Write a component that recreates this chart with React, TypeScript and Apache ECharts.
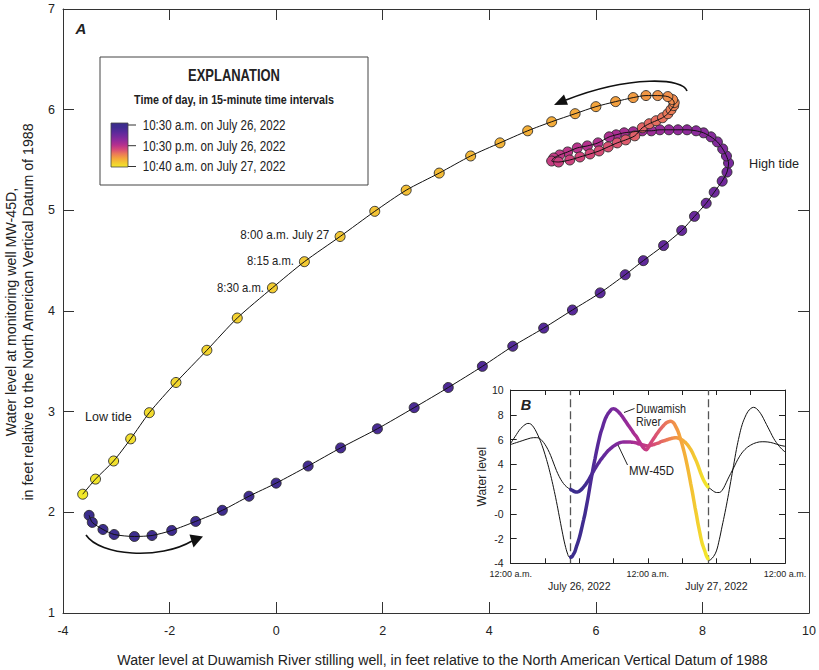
import React, { useEffect, useRef } from 'react';
import * as echarts from 'echarts';

const FONT = "'Liberation Sans', Arial, sans-serif";

// Main plot (A): 15-minute readings from 10:30 a.m. July 26 to 10:30 a.m. July 27, 2022
const riverLevel = [
  -3.51, -3.45, -3.25, -3.04, -2.66, -2.33, -1.96, -1.51, -1.01, -0.51,
  0.0, 0.6, 1.21, 1.9, 2.59, 3.23, 3.87, 4.44, 5.02, 5.56,
  6.08, 6.55, 6.89, 7.27, 7.61, 7.85, 8.07, 8.22, 8.37, 8.46,
  8.49, 8.45, 8.38, 8.28, 8.16, 8.02, 7.88, 7.71, 7.54, 7.37,
  7.2, 7.04, 6.87, 6.7, 6.53, 6.38, 6.25, 6.04, 5.84, 5.65,
  5.47, 5.32, 5.21, 5.17, 5.3, 5.51, 5.7, 5.89, 6.06, 6.23,
  6.4, 6.56, 6.73, 6.87, 7.0, 7.13, 7.25, 7.35, 7.41, 7.46,
  7.47, 7.44, 7.35, 7.16, 6.94, 6.7, 6.37, 6.0, 5.61, 5.17,
  4.72, 4.2, 3.65, 3.06, 2.44, 1.85, 1.2, 0.53, -0.07, -0.73,
  -1.3, -1.88, -2.38, -2.73, -3.05, -3.39, -3.63,
];
const wellLevel = [
  1.97, 1.9, 1.83, 1.78, 1.76, 1.77, 1.82, 1.91, 2.02, 2.16,
  2.29, 2.46, 2.64, 2.83, 3.04, 3.24, 3.45, 3.65, 3.83, 4.01,
  4.18, 4.36, 4.5, 4.65, 4.8, 4.94, 5.07, 5.18, 5.29, 5.38,
  5.47, 5.54, 5.61, 5.68, 5.73, 5.77, 5.79, 5.8, 5.8, 5.8,
  5.8, 5.79, 5.79, 5.78, 5.77, 5.75, 5.73, 5.67, 5.64, 5.62,
  5.58, 5.55, 5.52, 5.49, 5.48, 5.5, 5.53, 5.56, 5.59, 5.63,
  5.67, 5.7, 5.74, 5.82, 5.86, 5.89, 5.92, 5.96, 6.0, 6.04,
  6.07, 6.1, 6.13, 6.14, 6.14, 6.12, 6.08, 6.03, 5.96, 5.88,
  5.79, 5.67, 5.54, 5.37, 5.2, 4.99, 4.74, 4.49, 4.23, 3.93,
  3.61, 3.29, 2.99, 2.73, 2.51, 2.33, 2.18,
];
const startHour = 10.5; // hours after 12:00 a.m. July 26
const stepHours = 0.25;

// Inset (B): [hours after 12:00 a.m. July 26, water level]
const riverBefore = [
  [0, 5.7], [0.5, 6.05], [1, 6.4], [1.5, 6.75], [2, 7.0], [2.5, 7.2], [3, 7.3], [3.5, 7.25],
  [4, 7.0], [4.5, 6.6], [5, 6.1], [5.5, 5.5], [6, 4.8], [6.5, 4.0], [7, 3.1], [7.5, 2.1],
  [8, 1.0], [8.5, -0.2], [9, -1.4], [9.5, -2.5], [10, -3.3], [10.25, -3.5],
];
const wellBefore = [
  [0, 5.6], [1, 5.75], [2, 5.9], [3, 6.05], [4, 6.15], [4.5, 6.15], [5, 6.1], [5.5, 5.9],
  [6, 5.6], [6.5, 5.2], [7, 4.7], [7.5, 4.1], [8, 3.5], [8.5, 3.0], [9, 2.6], [9.5, 2.3],
  [10, 2.1], [10.25, 2.02],
];
const riverAfter = [
  [34.75, -3.75], [35, -3.7], [35.5, -3.45], [36, -3.0], [36.5, -2.1], [37, -1.0], [37.5, 0.1],
  [38, 1.3], [38.5, 2.6], [39, 3.9], [39.5, 5.2], [40, 6.3], [40.5, 7.2], [41, 7.8],
  [41.5, 8.25], [42, 8.5], [42.5, 8.6], [43, 8.5], [43.5, 8.25], [44, 7.9], [44.5, 7.45],
  [45, 7.0], [45.5, 6.55], [46, 6.1], [46.5, 5.75], [47, 5.45], [47.5, 5.2], [48, 5.0],
];
const wellAfter = [
  [34.75, 2.08], [35, 2.0], [35.5, 1.82], [36, 1.72], [36.5, 1.72], [37, 1.9], [37.5, 2.3],
  [38, 2.8], [39, 3.7], [40, 4.6], [41, 5.2], [42, 5.55], [43, 5.75], [44, 5.82],
  [45, 5.8], [46, 5.7], [47, 5.55], [48, 5.45],
];
const dashedHours = [10.5, 34.5];
const dayLabels = ['July 26, 2022', 'July 27, 2022'];
const insetYLabels: Record<string, string> = { '-4': '-4', '-2': '-2', '0': '-0', '2': '2', '4': '4', '6': '6', '8': '8', '10': '10' };

const xTitle = 'Water level at Duwamish River stilling well, in feet relative to the North American Vertical Datum of 1988';
const yTitle = ['Water level at monitoring well MW-45D,', 'in feet relative to the North American Vertical Datum of 1988'];
const legendTitle = 'EXPLANATION';
const legendSubtitle = 'Time of day, in 15-minute time intervals';
const legendLabels = ['10:30 a.m. on July 26, 2022', '10:30 p.m. on July 26, 2022', '10:40 a.m. on July 27, 2022'];
const timeNotes = ['8:00 a.m. July 27', '8:15 a.m.', '8:30 a.m.'];

const palette = [
  '#3b2d8c', '#402c90', '#58299a', '#74299c', '#932b9a', '#b5308e',
  '#d64a78', '#eb7959', '#f4a43d', '#f3c832', '#f2e82a',
];

const measureCtx = typeof document !== 'undefined' ? document.createElement('canvas').getContext('2d') : null;
function textWidth(text: string, size: number, weight = 'normal', fstyle = 'normal') {
  if (!measureCtx) return text.length * size * 0.5;
  measureCtx.font = `${fstyle} ${weight} ${size}px ${FONT}`;
  return measureCtx.measureText(text).width || text.length * size * 0.5;
}

export default function App() {
  const ref = useRef<HTMLDivElement>(null);
  useEffect(() => {
    const chart = echarts.init(ref.current!, null, { renderer: 'svg' });
    const scatterData = riverLevel.map((x, i) => [x, wellLevel[i], i]);
    const hours = riverLevel.map((_, i) => startHour + i * stepHours);
    const riverColored = riverLevel.map((v, i) => [hours[i], v]);
    const wellColored = wellLevel.map((v, i) => [hours[i], v]);
    const riverFull = [...riverBefore, ...riverColored, ...riverAfter];
    const wellFull = [...wellBefore, ...wellColored, ...wellAfter];

    const axisColor = '#333';
    const labelColor = '#222';
    const txt = (text: string, x: number, y: number, o: any = {}) => {
      const size = o.size ?? 12.5;
      const weight = o.weight ?? 'normal';
      const fstyle = o.fstyle ?? 'normal';
      const align = o.align ?? 'left';
      const scale = o.width ? o.width / textWidth(text, size, weight, fstyle) : (o.scale ?? 0.84);
      return {
        type: 'text', x, y, z: 20, scaleX: scale, scaleY: 1, rotation: o.rotation ?? 0,
        style: {
          text, fill: labelColor, fontFamily: FONT, fontSize: size, fontWeight: weight, fontStyle: fstyle,
          align, verticalAlign: 'middle', textAlign: align, textVerticalAlign: 'middle',
        },
      };
    };
    const titleSize = 15.5;
    const titleScale = 651 / textWidth(xTitle, titleSize);
    const legendGradient = new echarts.graphic.LinearGradient(0, 0, 0, 1,
      palette.map((c, i) => ({ offset: i / (palette.length - 1), color: c })));
    const legendY = [125, 145.7, 166.5];

    const mainAxisCommon = {
      type: 'value', gridIndex: 0,
      axisLine: { show: true, onZero: false, lineStyle: { color: axisColor, width: 1 } },
      axisTick: { show: true, inside: true, length: 11, lineStyle: { color: axisColor } },
      splitLine: { show: false },
    };
    const insetAxisCommon = {
      type: 'value', gridIndex: 1,
      axisLine: { show: true, onZero: false, lineStyle: { color: '#222', width: 1 } },
      axisTick: { show: true, inside: true, length: 6, lineStyle: { color: '#222' } },
      splitLine: { show: false },
    };

    const option: any = {
      animation: false,
      backgroundColor: '#fff',
      grid: [
        { left: 63, top: 9, width: 752, height: 604 },
        { left: 510.7, top: 390, width: 274.3, height: 173.3 },
      ],
      xAxis: [
        {
          ...mainAxisCommon, min: -4, max: 10, interval: 2, position: 'bottom',
          axisLabel: { color: labelColor, fontSize: 12.5, fontFamily: FONT, margin: 11 },
        },
        { ...mainAxisCommon, min: -4, max: 10, interval: 2, position: 'top', axisLabel: { show: false } },
        {
          ...insetAxisCommon, min: 0, max: 48, interval: 6, position: 'bottom',
          axisTick: { show: true, inside: true, length: 5, lineStyle: { color: '#222' } },
          axisLabel: {
            color: labelColor, fontSize: 9, fontFamily: FONT, margin: 6, interval: 0,
            formatter: (v: number) => {
              if (v % 24 === 0) return '12:00 a.m.';
              if (v % 24 === 12) return '{d|' + dayLabels[Math.floor(v / 24)] + '}';
              return '';
            },
            rich: { d: { fontSize: 10.5, fontFamily: FONT, color: labelColor, padding: [11, 0, 0, 0] } },
          },
        },
        {
          ...insetAxisCommon, min: 0, max: 48, interval: 6, position: 'top',
          axisTick: { show: true, inside: true, length: 5, lineStyle: { color: '#222' } },
          axisLabel: { show: false },
        },
      ],
      yAxis: [
        {
          ...mainAxisCommon, min: 1, max: 7, interval: 1, position: 'left',
          axisLabel: { color: labelColor, fontSize: 12.5, fontFamily: FONT, margin: 8 },
        },
        { ...mainAxisCommon, min: 1, max: 7, interval: 1, position: 'right', axisLabel: { show: false } },
        {
          ...insetAxisCommon, min: -4, max: 10, interval: 2, position: 'left',
          axisLabel: {
            color: labelColor, fontSize: 10.5, fontFamily: FONT, margin: 7,
            formatter: (v: number) => insetYLabels[String(v)] ?? String(v),
          },
          name: 'Water level', nameLocation: 'middle', nameGap: 22, nameRotate: 90,
          nameTextStyle: { color: labelColor, fontSize: 12, fontFamily: FONT },
        },
        { ...insetAxisCommon, min: -4, max: 10, interval: 2, position: 'right', axisLabel: { show: false } },
      ],
      visualMap: [
        {
          type: 'continuous', show: false, seriesIndex: 0, dimension: 2,
          min: 0, max: riverLevel.length - 1, inRange: { color: palette },
        },
        {
          type: 'continuous', show: false, seriesIndex: [4, 5], dimension: 0,
          min: hours[0], max: hours[hours.length - 1], inRange: { color: palette },
        },
      ],
      series: [
        {
          type: 'scatter', xAxisIndex: 0, yAxisIndex: 0, data: scatterData, z: 2,
          symbol: 'circle', symbolSize: 10,
          itemStyle: { borderColor: '#2a2a2a', borderWidth: 0.9, opacity: 1 },
        },
        {
          type: 'line', xAxisIndex: 0, yAxisIndex: 0, data: scatterData.map((d) => [d[0], d[1]]), z: 3,
          showSymbol: false, smooth: 0.25, lineStyle: { color: '#111', width: 1 }, silent: true,
        },
        {
          type: 'line', xAxisIndex: 2, yAxisIndex: 2, data: riverFull, z: 5,
          showSymbol: false, smooth: 0.4, lineStyle: { color: '#111', width: 1 }, silent: true,
          markLine: {
            silent: true, symbol: 'none', label: { show: false },
            lineStyle: { color: '#555', type: [8, 4], width: 1.3 },
            data: dashedHours.map((h) => ({ xAxis: h })),
          },
        },
        {
          type: 'line', xAxisIndex: 2, yAxisIndex: 2, data: wellFull, z: 5,
          showSymbol: false, smooth: 0.4, lineStyle: { color: '#111', width: 1 }, silent: true,
        },
        {
          type: 'line', xAxisIndex: 2, yAxisIndex: 2, data: riverColored, z: 6,
          showSymbol: false, smooth: 0.3, lineStyle: { width: 3.5, cap: 'round' }, silent: true,
        },
        {
          type: 'line', xAxisIndex: 2, yAxisIndex: 2, data: wellColored, z: 6,
          showSymbol: false, smooth: 0.3, lineStyle: { width: 3.5, cap: 'round' }, silent: true,
        },
      ],
      graphic: {
        elements: [
          // axis titles
          { ...txt(xTitle, 442.5, 660, { size: titleSize, align: 'center', scale: titleScale }) },
          { ...txt(yTitle[0], 10.5, 312, { size: titleSize, align: 'center', scale: titleScale, rotation: Math.PI / 2 }) },
          { ...txt(yTitle[1], 27.5, 312, { size: titleSize, align: 'center', scale: titleScale, rotation: Math.PI / 2 }) },
          txt('A', 81, 28, { size: 15, weight: 'bold', fstyle: 'italic', align: 'center', scale: 1 }),
          {
            type: 'rect', z: 15, shape: { x: 100, y: 57, width: 268, height: 128 },
            style: { fill: '#fff', stroke: '#444', lineWidth: 1 },
          },
          txt(legendTitle, 234, 75, { size: 16.5, weight: 'bold', align: 'center', width: 92 }),
          txt(legendSubtitle, 234, 100, { size: 13.5, weight: 'bold', align: 'center', width: 200 }),
          {
            type: 'rect', z: 20, shape: { x: 111, y: 123, width: 17, height: 44 },
            style: { fill: legendGradient, stroke: '#444', lineWidth: 0.8 },
          },
          ...legendY.map((y) => ({
            type: 'line', z: 20, shape: { x1: 128, y1: y, x2: 136, y2: y },
            style: { stroke: '#333', lineWidth: 1 },
          })),
          ...legendLabels.map((t, i) => txt(t, 142.7, legendY[i], { size: 14.5, width: 143 })),
          txt('Low tide', 85, 416, { size: 13, width: 46.7 }),
          txt('High tide', 749, 163, { size: 13, width: 50 }),
          txt(timeNotes[0], 329.3, 235, { size: 13, align: 'right', width: 89 }),
          txt(timeNotes[1], 294, 260.5, { size: 13, align: 'right', width: 47 }),
          txt(timeNotes[2], 264, 288, { size: 13, align: 'right', width: 47 }),
          // arrows
          {
            type: 'bezierCurve', z: 20,
            shape: { x1: 687, y1: 91, cpx1: 684, cpy1: 78, cpx2: 630, cpy2: 75, x2: 566, y2: 100 },
            style: { stroke: '#111', lineWidth: 1.6, fill: 'none' },
          },
          {
            type: 'polygon', z: 20, shape: { points: [[554, 105], [568, 104.8], [564, 94.5]] },
            style: { fill: '#111' },
          },
          {
            type: 'bezierCurve', z: 20,
            shape: { x1: 86, y1: 535, cpx1: 100, cpy1: 556, cpx2: 160, cpy2: 560, x2: 192, y2: 541 },
            style: { stroke: '#111', lineWidth: 1.6, fill: 'none' },
          },
          {
            type: 'polygon', z: 20, shape: { points: [[203, 536.5], [189.5, 534.5], [193.5, 547.5]] },
            style: { fill: '#111' },
          },
          // inset annotations
          txt('B', 526, 405, { size: 14.5, weight: 'bold', fstyle: 'italic', align: 'center', scale: 1 }),
          txt('Duwamish', 636, 409, { size: 12, width: 50 }),
          txt('River', 636, 422, { size: 12, scale: 50 / textWidth('Duwamish', 12) }),
          txt('MW-45D', 629, 470, { size: 12, width: 45 }),
          {
            type: 'line', z: 20, shape: { x1: 624, y1: 412.5, x2: 634.5, y2: 408.5 },
            style: { stroke: '#222', lineWidth: 1 },
          },
          {
            type: 'line', z: 20, shape: { x1: 618, y1: 445, x2: 627.5, y2: 465 },
            style: { stroke: '#222', lineWidth: 1 },
          },
        ],
      },
    };
    chart.setOption(option);
    return () => chart.dispose();
  }, []);
  return (
    <div
      ref={ref}
      style={{ position: 'fixed', left: 0, top: 0, width: 819, height: 670, background: '#fff' }}
    />
  );
}
